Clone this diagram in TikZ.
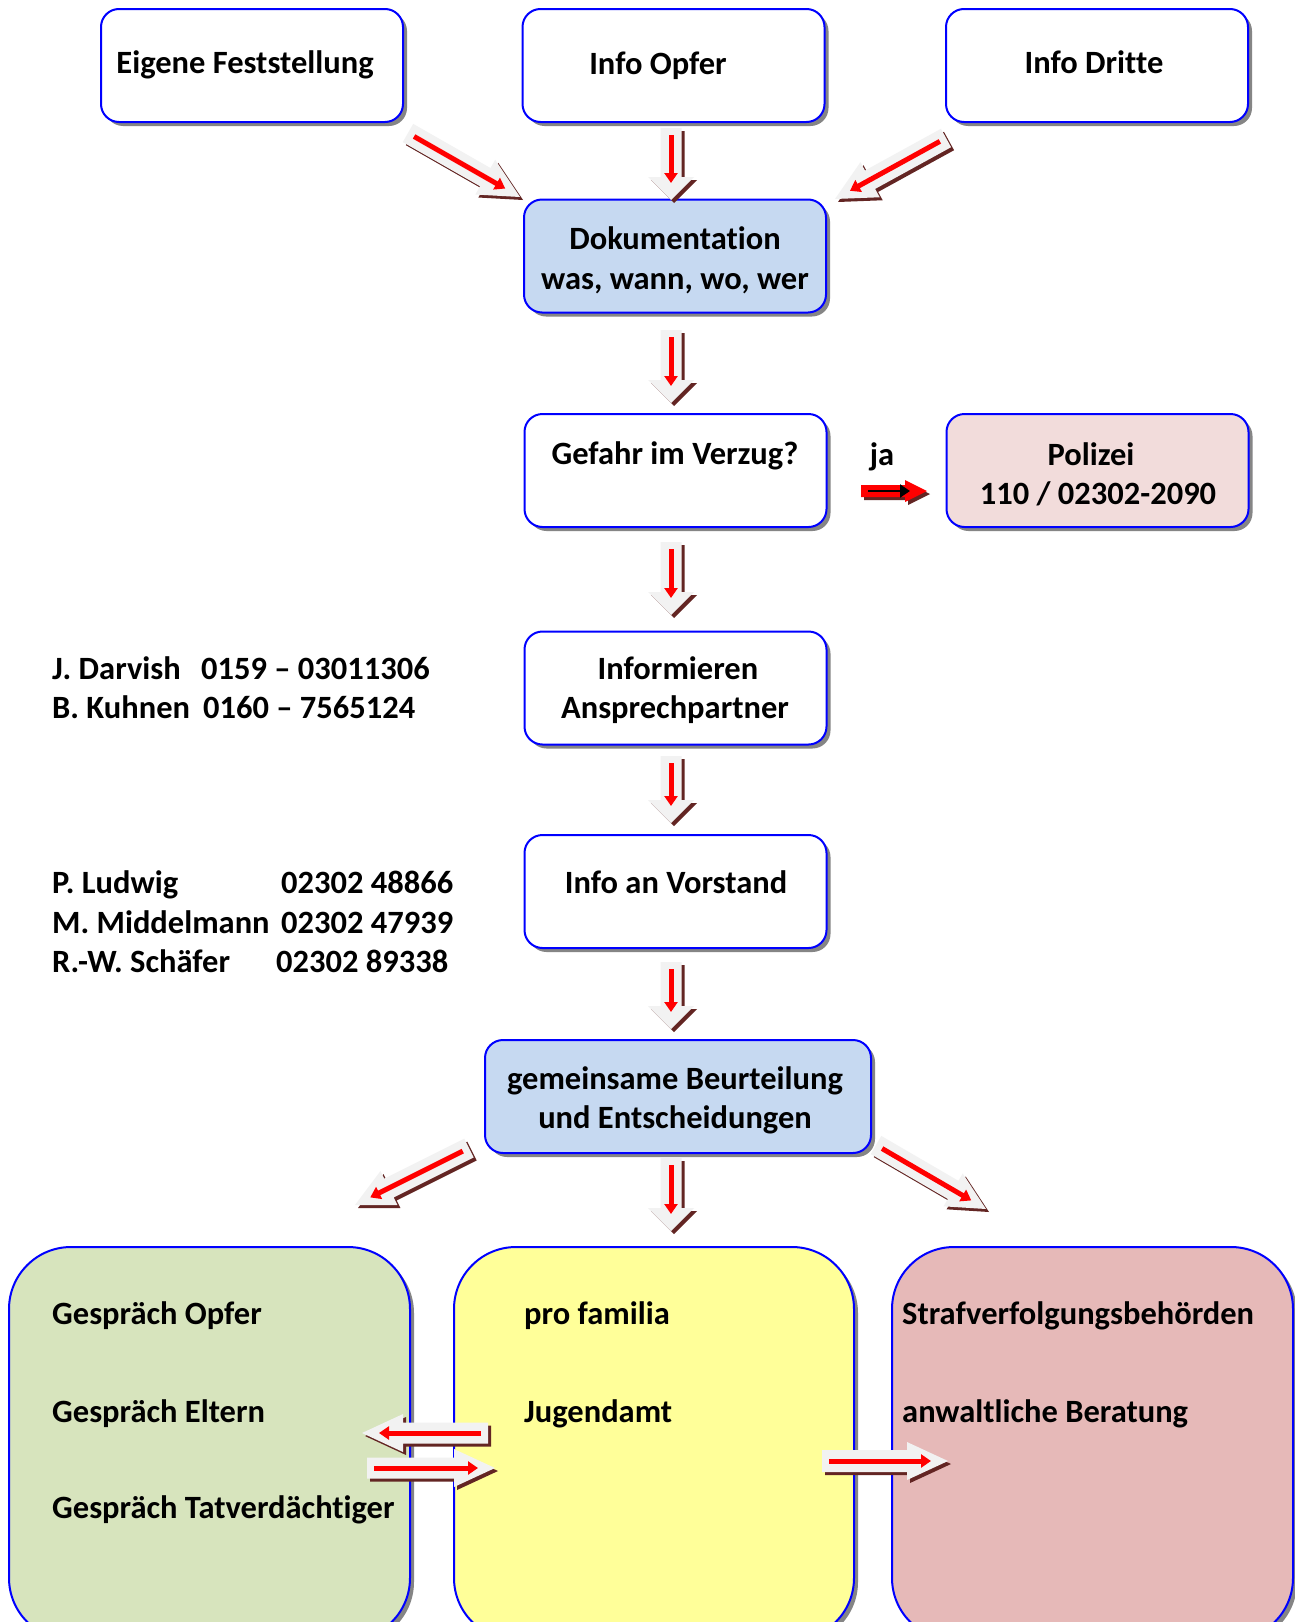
\documentclass[tikz,border=0pt]{standalone}
\usepackage{fontspec}
\setmainfont[Ligatures=NoCommon]{Carlito}
\usetikzlibrary{calc,shadows,arrows.meta}
\definecolor{bblue}{HTML}{0000FF}
\definecolor{shgray}{HTML}{858585}
\definecolor{dokblue}{HTML}{C6D9F1}
\definecolor{polpink}{HTML}{F2DCDB}
\definecolor{bgreen}{HTML}{D7E4BD}
\definecolor{byellow}{HTML}{FFFF99}
\definecolor{bpink}{HTML}{E6B9B8}
\definecolor{agray}{HTML}{F2F2F2}
\definecolor{abrown}{HTML}{632523}
\definecolor{ared}{HTML}{FF0000}
% #1 tail, #2 tip, #3 head length, #4 head half width, #5 shaft half width,
% #6 body colour, #7 inner line colour, #8 inner line width
\newcommand\blkarrow[8]{%
  \path let \p1=($(#2)-(#1)$) in \pgfextra{%
    \pgfmathsetmacro\tmpang{atan2(\y1,\x1)}\xdef\bang{\tmpang}%
    \pgfmathsetmacro\tmplen{veclen(\x1,\y1)}\xdef\blen{\tmplen}};
  \begin{scope}[shift={(#1)},xshift=3pt,yshift=-3pt,rotate=\bang]
    \fill[abrown] (0,#5) -- ({\blen-#3},#5) -- ({\blen-#3},#4) -- (\blen,0)
      -- ({\blen-#3},-#4) -- ({\blen-#3},-#5) -- (0,-#5) -- cycle;
  \end{scope}
  \begin{scope}[shift={(#1)},rotate=\bang]
    \fill[#6] (0,#5) -- ({\blen-#3},#5) -- ({\blen-#3},#4) -- (\blen,0)
      -- ({\blen-#3},-#4) -- ({\blen-#3},-#5) -- (0,-#5) -- cycle;
    \draw[#7,line width=#8,-{Triangle[length=10pt,width=13pt]}] (7,0) -- ({\blen-17},0);
  \end{scope}}
\begin{document}
\begin{tikzpicture}[x=1pt,y=-1pt,
  box/.style={draw=bblue,line width=2pt,rounded corners=18pt,fill=white,
    minimum width=302pt,minimum height=113pt,inner sep=0pt,
    drop shadow={shadow xshift=4pt,shadow yshift=-4pt,fill=shgray,opacity=1}},
  bigbox/.style={box,rounded corners=62pt,minimum width=401pt,minimum height=393pt},
  txt/.style={inner sep=0pt,anchor=base,font=\fontsize{32.5}{39}\selectfont\bfseries},
  ltxt/.style={txt,anchor=base west}]
\clip (0,0) rectangle (1295,1622);
\fill[white] (0,0) rectangle (1295,1622);

% boxes
\node[box] (eig) at (252,65.5) {};
\node[box] (opf) at (673.5,65.5) {};
\node[box] (dri) at (1097,65.5) {};
\node[box,fill=dokblue] (dok) at (675,256) {};
\node[box] (gef) at (675.5,470.5) {};
\node[box,fill=polpink] (pol) at (1097.5,470.5) {};
\node[box] (inf) at (675.5,688) {};
\node[box] (vor) at (675.5,891.5) {};
\node[box,fill=dokblue,minimum width=386pt] (gem) at (678,1096.5) {};
\node[bigbox,fill=bgreen] (grn) at (209.5,1443.5) {};
\node[bigbox,fill=byellow,minimum width=400pt] (yel) at (654,1443.5) {};
\node[bigbox,fill=bpink] (pnk) at (1092.5,1443.5) {};

% texts
\node[txt] (teig) at (245,73) {Eigene Feststellung};
\node[txt] (topf) at (658,74) {Info Opfer};
\node[txt] (tdri) at (1094,73) {Info Dritte};
\node[txt] (tdok1) at (675,249) {Dokumentation};
\node[txt] (tdok2) at (675,289) {was, wann, wo, wer};
\node[txt] (tgef) at (675,464) {Gefahr im Verzug?};
\node[txt] (tja) at (882,465) {ja};
\node[txt] (tpol1) at (1091,465) {Polizei};
\node[txt] (tpol2) at (1098,504) {110 / 02302-2090};
\node[txt] (tinf1) at (678,679) {Informieren};
\node[txt] (tinf2) at (675,718) {Ansprechpartner};
\node[txt] (tvor) at (676,893) {Info an Vorstand};
\node[txt] (tgem1) at (675,1089) {gemeinsame Beurteilung};
\node[txt] (tgem2) at (675,1128) {und Entscheidungen};

\node[ltxt] (n1) at (52,679) {J. Darvish};
\node[ltxt] (p1) at (201,679) {0159 – 03011306};
\node[ltxt] (n2) at (52,718) {B. Kuhnen};
\node[ltxt] (p2) at (203,718) {0160 – 7565124};
\node[ltxt] (n3) at (52,893) {P. Ludwig};
\node[ltxt] (p3) at (281,893) {02302 48866};
\node[ltxt] (n4) at (52,933) {M. Middelmann};
\node[ltxt] (p4) at (281,933) {02302 47939};
\node[ltxt] (n5) at (52,972) {R.-W. Schäfer};
\node[ltxt] (p5) at (276,972) {02302 89338};

\node[ltxt] (g1) at (52,1324) {Gespräch Opfer};
\node[ltxt] (g2) at (52,1422) {Gespräch Eltern};
\node[ltxt] (g3) at (52,1518) {Gespräch Tatverdächtiger};
\node[ltxt] (y1) at (524,1324) {pro familia};
\node[ltxt] (y2) at (524,1422) {Jugendamt};
\node[ltxt] (r1) at (902,1324) {Strafverfolgungsbehörden};
\node[ltxt] (r2) at (902,1422) {anwaltliche Beratung};

% arrow end points
\coordinate (a1s) at (408,133);  \coordinate (a1e) at (520,197);
\coordinate (a2s) at (671,128);  \coordinate (a2e) at (671,200);
\coordinate (a3s) at (946,138);  \coordinate (a3e) at (835,199);
\coordinate (a4s) at (671,330);  \coordinate (a4e) at (671,403);
\coordinate (a5s) at (671,542);  \coordinate (a5e) at (671,615);
\coordinate (a6s) at (671,756);  \coordinate (a6e) at (671,823);
\coordinate (a7s) at (671,962);  \coordinate (a7e) at (671,1029);
\coordinate (a8s) at (671,1158); \coordinate (a8e) at (671,1231);
\coordinate (a9s) at (469,1148); \coordinate (a9e) at (355,1205);
\coordinate (a10s) at (876,1145); \coordinate (a10e) at (986,1209);
\coordinate (a11s) at (488,1433); \coordinate (a11e) at (362,1433);
\coordinate (a12s) at (367,1468); \coordinate (a12e) at (495,1468);
\coordinate (a13s) at (822,1461); \coordinate (a13e) at (948,1461);
\coordinate (jas) at (861,491);  \coordinate (jae) at (927,491);

% block arrows
\blkarrow{a1s}{a1e}{40}{20}{10.5}{agray}{ared}{5pt}
\blkarrow{a2s}{a2e}{23}{23}{10.5}{agray}{ared}{5pt}
\blkarrow{a3s}{a3e}{40}{20}{10.5}{agray}{ared}{5pt}
\blkarrow{a4s}{a4e}{23}{23}{10.5}{agray}{ared}{5pt}
\blkarrow{a5s}{a5e}{23}{23}{10.5}{agray}{ared}{5pt}
\blkarrow{a6s}{a6e}{23}{23}{10.5}{agray}{ared}{5pt}
\blkarrow{a7s}{a7e}{23}{23}{10.5}{agray}{ared}{5pt}
\blkarrow{a8s}{a8e}{23}{23}{10.5}{agray}{ared}{5pt}
\blkarrow{a9s}{a9e}{38}{19}{10.5}{agray}{ared}{5pt}
\blkarrow{a10s}{a10e}{38}{19}{10.5}{agray}{ared}{5pt}
\blkarrow{a11s}{a11e}{41}{19}{10.5}{agray}{ared}{5pt}
\blkarrow{a12s}{a12e}{41}{19}{10.5}{agray}{ared}{5pt}
\blkarrow{a13s}{a13e}{41}{19}{11}{agray}{ared}{5pt}
\blkarrow{jas}{jae}{22}{11}{6}{ared}{black}{2pt}
\end{tikzpicture}
\end{document}
